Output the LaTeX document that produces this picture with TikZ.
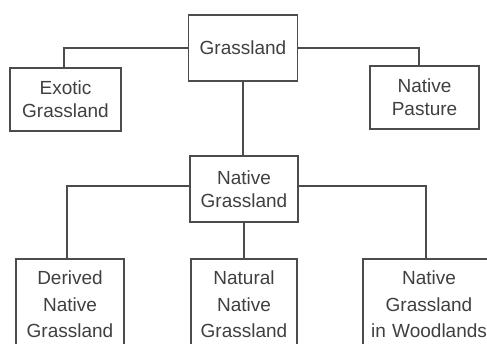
\documentclass[tikz,border=0pt]{standalone}
\usepackage{fontspec}
\setmainfont{Liberation Sans}
\begin{document}
\begin{tikzpicture}[x=1pt,y=-1pt,
  box/.style={draw=black!70, line width=1.3pt, fill=white, inner sep=0pt, align=center, text=black!75, font=\fontsize{19}{23}\selectfont},
  lowbox/.style={box, font=\fontsize{19}{26.5}\selectfont},
  link/.style={draw=black!70, line width=1.3pt}]
\useasboundingbox (0,0) rectangle (487,344);
\clip (0,0) rectangle (487,344);
\fill[white] (0,0) rectangle (487,344);
\node[box, minimum width=109pt, minimum height=66pt] (g) at (243,48) {Grassland};
\node[box, minimum width=111pt, minimum height=63pt] (ex) at (65.5,99.5) {Exotic\\Grassland};
\node[box, minimum width=109pt, minimum height=63pt] (np) at (424.5,97.5) {Native\\Pasture};
\node[box, minimum width=108pt, minimum height=66pt] (ng) at (244,189) {Native\\Grassland};
\node[lowbox, minimum width=108pt, minimum height=91pt] (dn) at (70,304.5) {Derived\\Native\\Grassland};
\node[lowbox, minimum width=106pt, minimum height=91pt] (nn) at (244,304.5) {Natural\\Native\\Grassland};
\node[lowbox, minimum width=132pt, minimum height=91pt, text width=132pt] (nw) at (429,304.5) {Native\\Grassland\\in Woodlands};
\draw[link] (g.west) -| ([xshift=-1.5pt]ex.north);
\draw[link] (g.east) -| ([xshift=-5.5pt]np.north);
\draw[link] (g.south) -- (g.south |- ng.north);
\draw[link] ([yshift=3pt]ng.west) -| ([xshift=-3pt]dn.north);
\draw[link] ([yshift=3pt]ng.east) -| ([xshift=-3pt]nw.north);
\draw[link] (ng.south) -- (nn.north);
\end{tikzpicture}
\end{document}
